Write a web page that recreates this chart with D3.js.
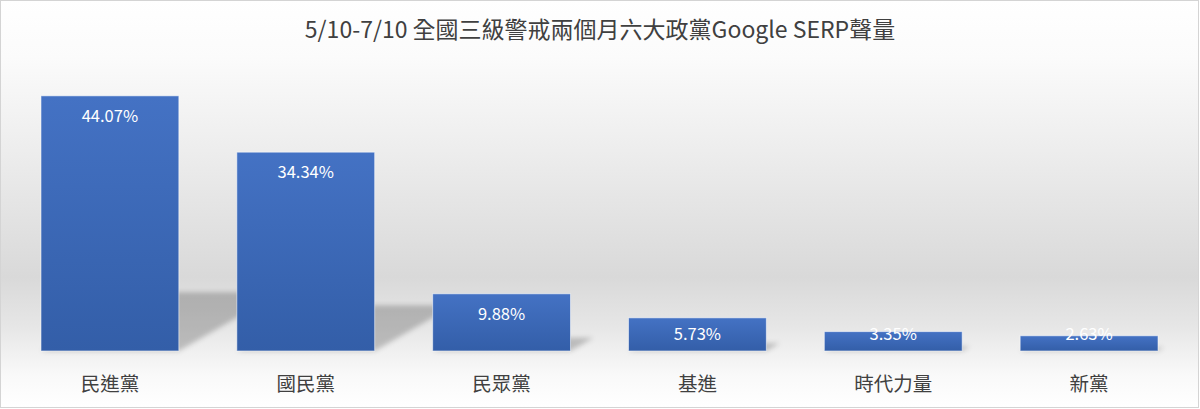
<!DOCTYPE html>
<html>
<head>
<meta charset="utf-8">
<script src="https://cdn.jsdelivr.net/npm/d3@7"></script>
<style>
  body { margin: 0; background: #fff; }
  svg { display: block; }
</style>
</head>
<body>
<svg width="1200" height="409"></svg>
<script>
var title = "5/10-7/10 全國三級警戒兩個月六大政黨Google SERP聲量";
var parties = ["民進黨", "國民黨", "民眾黨", "基進", "時代力量", "新黨"];
var shares = [44.07, 34.34, 9.88, 5.73, 3.35, 2.63];

var svg = d3.select("svg"),
    width = +svg.attr("width"),
    height = +svg.attr("height"),
    font = "'Noto Sans CJK TC', 'Noto Sans', sans-serif";

var defs = svg.append("defs");

// chart area background: white -> grey -> white
var bg = defs.append("linearGradient")
    .attr("id", "bg").attr("x1", 0).attr("y1", 0).attr("x2", 0).attr("y2", 1);
[[0, "#ffffff"], [0.14, "#fbfbfb"], [0.4, "#ebebeb"], [0.68, "#d9d9d9"],
 [0.8, "#e6e6e6"], [0.92, "#f9f9f9"], [1, "#ffffff"]].forEach(function(s) {
  bg.append("stop").attr("offset", s[0]).attr("stop-color", s[1]);
});

var barGrad = defs.append("linearGradient")
    .attr("id", "barGrad").attr("x1", 0).attr("y1", 0).attr("x2", 0).attr("y2", 1);
barGrad.append("stop").attr("offset", 0).attr("stop-color", "#4472c4");
barGrad.append("stop").attr("offset", 1).attr("stop-color", "#335ea8");

defs.append("filter").attr("id", "blur")
    .attr("x", "-20%").attr("y", "-20%").attr("width", "140%").attr("height", "140%")
  .append("feGaussianBlur").attr("stdDeviation", 2.5);

svg.append("rect")
    .attr("x", 0.5).attr("y", 0.5)
    .attr("width", width - 2).attr("height", height - 2)
    .attr("fill", "url(#bg)")
    .attr("stroke", "#d4d4d4");

var x = d3.scaleBand()
    .domain(parties)
    .range([12, 1187])
    .paddingInner(0.296)
    .paddingOuter(0.148);

var y = d3.scaleLinear()
    .domain([0, 50])
    .range([351, 61.5]);

var base = y(0);

// perspective shadows behind the bars
svg.append("g")
    .attr("filter", "url(#blur)")
  .selectAll("path")
  .data(parties)
  .enter().append("path")
    .attr("fill", "rgba(0,0,0,0.21)")
    .attr("d", function(d, i) {
      var h = base - y(shares[i]),
          x0 = x(d), x1 = x(d) + x.bandwidth(),
          sh = h * 0.4, sv = h * 0.23;
      return "M" + x0 + "," + base + "L" + x1 + "," + base +
             "L" + (x1 + sh) + "," + (base - sv) +
             "L" + (x0 + sh) + "," + (base - sv) + "Z";
    });

svg.append("g")
  .selectAll("rect")
  .data(parties)
  .enter().append("rect")
    .attr("x", function(d) { return x(d); })
    .attr("y", function(d, i) { return y(shares[i]); })
    .attr("width", x.bandwidth())
    .attr("height", function(d, i) { return base - y(shares[i]); })
    .attr("fill", "url(#barGrad)")
    .attr("stroke", "rgba(255,255,255,0.55)")
    .attr("stroke-width", 1);

svg.append("g")
    .attr("font-family", font)
    .attr("font-size", 16.5)
    .attr("fill", "#ffffff")
    .attr("text-anchor", "middle")
  .selectAll("text")
  .data(parties)
  .enter().append("text")
    .attr("x", function(d) { return x(d) + x.bandwidth() / 2; })
    .attr("y", function(d, i) { return Math.min(y(shares[i]) + 26, base - 11); })
    .text(function(d, i) { return shares[i].toFixed(2) + "%"; });

svg.append("g")
    .attr("font-family", font)
    .attr("font-size", 19.5)
    .attr("fill", "#404040")
    .attr("text-anchor", "middle")
  .selectAll("text")
  .data(parties)
  .enter().append("text")
    .attr("x", function(d) { return x(d) + x.bandwidth() / 2; })
    .attr("y", 391)
    .text(function(d) { return d; });

svg.append("text")
    .attr("x", width / 2)
    .attr("y", 38)
    .attr("text-anchor", "middle")
    .attr("font-family", font)
    .attr("font-size", 23)
    .attr("fill", "#404040")
    .text(title);
</script>
</body>
</html>
